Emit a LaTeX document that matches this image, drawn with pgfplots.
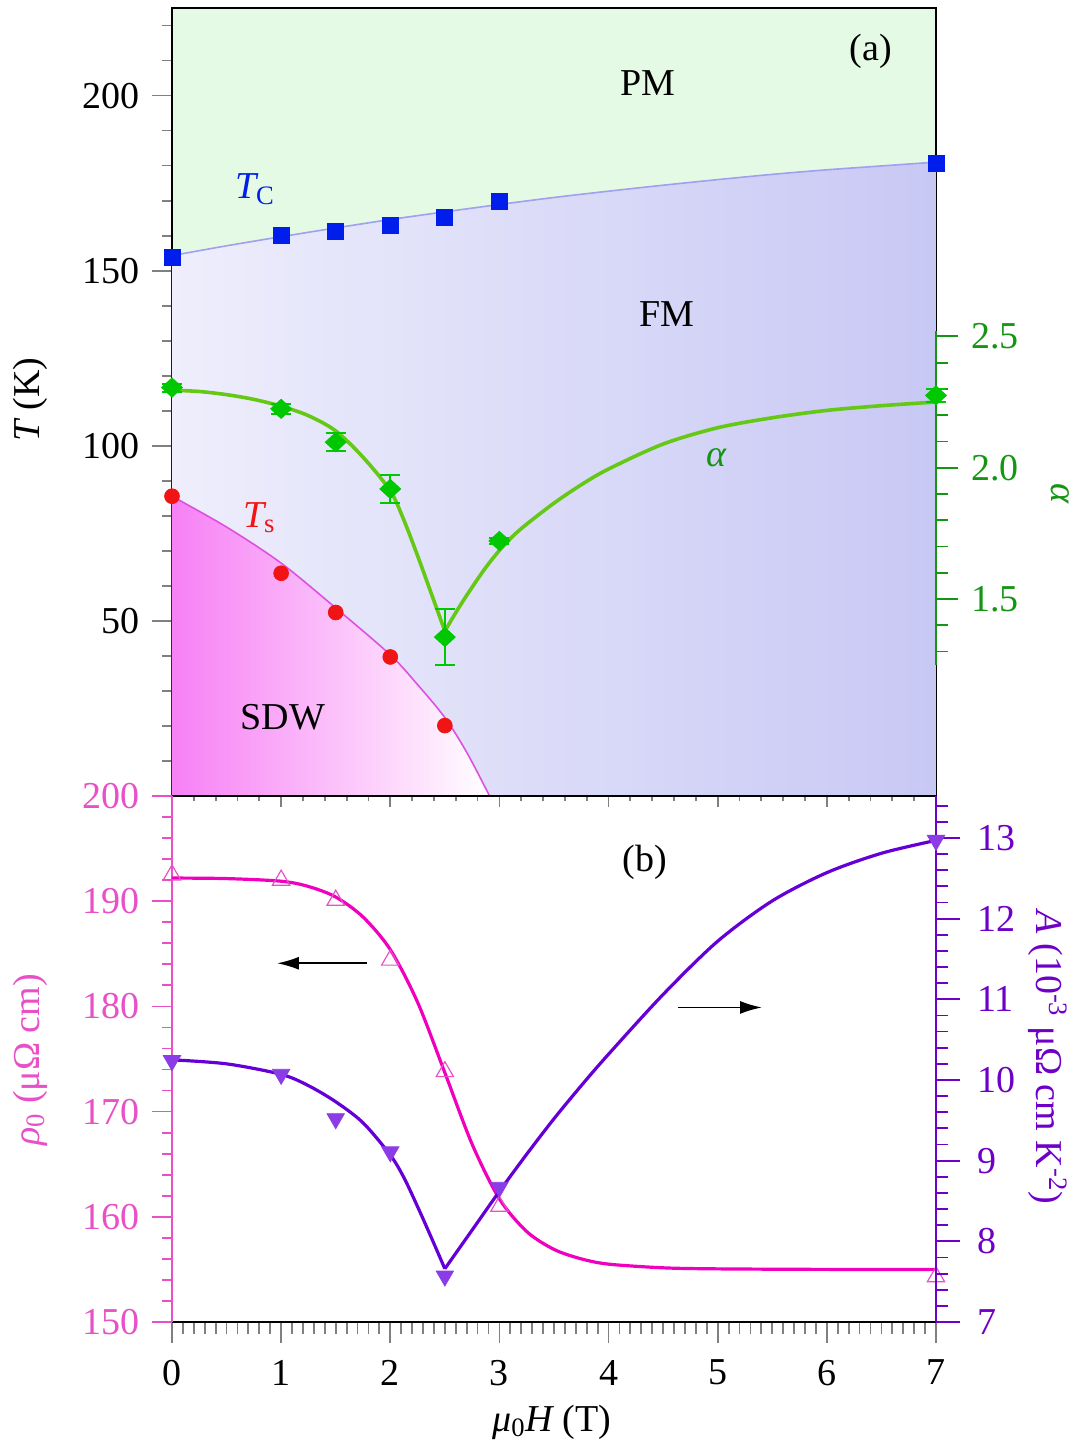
\documentclass[border=0pt]{standalone}
\usepackage{fontspec}
\setmainfont{Liberation Serif}
\usepackage{pgfplots}
\pgfplotsset{compat=1.18}
\usetikzlibrary{arrows.meta}

\definecolor{pmgreen}{RGB}{229,250,229}
\definecolor{fmleft}{RGB}{238,238,252}
\definecolor{fmright}{RGB}{200,200,245}
\definecolor{sdwpink}{RGB}{247,128,245}
\definecolor{tcline}{RGB}{160,160,240}
\definecolor{tsline}{RGB}{222,80,222}
\definecolor{tcblue}{RGB}{0,30,235}
\definecolor{tsred}{RGB}{240,20,20}
\definecolor{diagreen}{RGB}{0,200,0}
\definecolor{fitgreen}{RGB}{100,200,20}
\definecolor{axgreen}{RGB}{20,150,20}
\definecolor{rhoax}{RGB}{232,80,200}
\definecolor{rholine}{RGB}{240,0,190}
\definecolor{aax}{RGB}{110,0,200}
\definecolor{aline}{RGB}{100,0,215}
\definecolor{amark}{RGB}{140,60,230}

\newcommand{\lab}{\fontsize{19}{22}\selectfont}

\pgfplotsset{
  base/.style={
    scale only axis, width=382pt, xmin=0, xmax=7, clip=false,
    tick align=outside,
    /pgf/number format/assume math mode=true,
    tick label style={font=\lab},
    axis line style={line width=1pt},
    every tick/.append style={line width=0.9pt},
  },
}

\begin{document}
\begin{tikzpicture}
\useasboundingbox (-86pt,-326pt) rectangle (455pt,398pt);

% ---------- (a) phase diagram ----------
\begin{axis}[base, name=top, at={(0,0)}, anchor=south west, height=394pt,
  ymin=0, ymax=225,
  axis background/.style={fill=pmgreen},
  xtick=\empty,
  ytick={50,100,150,200}, minor ytick={10,20,...,220}, ytick pos=left,
  major tick length=10pt, minor tick length=5pt,
  yticklabel style={xshift=-2.5pt},
]
% FM region under T_C
\addplot[draw=none, left color=fmleft, right color=fmright] coordinates {
  (0,154.3) (0.5,157.1) (1,159.7) (1.5,162.2) (2,164.6) (2.5,166.8) (3,168.9)
  (3.5,170.9) (4,172.7) (4.5,174.4) (5,176.0) (5.5,177.5) (6,178.8) (6.5,179.9) (7,181.0)
} \closedcycle;
% SDW region under T_s
\addplot[draw=none, left color=sdwpink, right color=white, smooth] coordinates {
  (0,85.6) (0.5,76.8) (1,66.5) (1.5,53.7) (2,40.3) (2.25,31.8) (2.5,22.4) (2.7,12.5) (2.91,0)
} \closedcycle;
\addplot[tcline, line width=0.8pt, smooth] coordinates {
  (0,154.3) (0.5,157.1) (1,159.7) (1.5,162.2) (2,164.6) (2.5,166.8) (3,168.9)
  (3.5,170.9) (4,172.7) (4.5,174.4) (5,176.0) (5.5,177.5) (6,178.8) (6.5,179.9) (7,181.0)
};
\addplot[tsline, line width=0.8pt, smooth] coordinates {
  (0,85.6) (0.5,76.8) (1,66.5) (1.5,53.7) (2,40.3) (2.25,31.8) (2.5,22.4) (2.7,12.5) (2.91,0)
};
\addplot[only marks, mark=square*, mark size=4pt, tcblue] coordinates {
  (0,153.8) (1,160.0) (1.5,161.1) (2,162.8) (2.5,165.2) (3,169.7) (7,180.7)
};
\addplot[only marks, mark=*, mark size=3.7pt, tsred] coordinates {
  (0,85.6) (1,63.6) (1.5,52.4) (2,39.7) (2.5,20.1)
};
\node[font=\lab] at (axis cs:4.36,203.7) {PM};
\node[font=\lab] at (axis cs:4.535,137.5) {FM};
\node[font=\lab] at (axis cs:6.405,212.6) {(a)};
\node[font=\lab] at (axis cs:1.017,22.4) {SDW};
\node[font=\lab, tcblue] at (axis cs:0.76,173.2) {{\itshape T}\textsubscript{C}};
\node[font=\lab, tsred] at (axis cs:0.80,79.5) {{\itshape T}\textsubscript{s}};
\node[font=\lab, axgreen] at (axis cs:4.99,96.6) {\itshape α};
\node[font=\lab, rotate=90] at ([xshift=-71pt]axis cs:0,113.2) {{\itshape T} (K)};
\end{axis}

% x ticks of panel (a)
\begin{axis}[base, at={(0,0)}, anchor=south west, height=394pt,
  ymin=0, ymax=1, hide y axis, axis x line*=bottom,
  xtick={0,...,7}, minor x tick num=4, xticklabels={},
  major tick length=5.3pt, minor tick length=2.6pt,
]
\end{axis}

% alpha on the right of panel (a)
\begin{axis}[base, at={(0,0)}, anchor=south west, height=394pt,
  ymin=0.75, ymax=3.75, hide x axis, axis y line*=right,
  y axis line style={draw=none},
  ytick={1.5,2,2.5}, minor ytick={1.3,1.4,1.6,1.7,1.8,1.9,2.1,2.2,2.3,2.4},
  major tick length=11pt, minor tick length=6pt,
  every tick/.append style={axgreen},
  yticklabel style={axgreen, xshift=3pt, /pgf/number format/.cd, fixed, fixed zerofill, precision=1},
]
\draw[axgreen, line width=1pt] (axis cs:7,1.25) -- (axis cs:7,2.52);
\addplot[fitgreen, line width=1.8pt, smooth] coordinates {
  (0,2.295) (0.25,2.29) (0.5,2.278) (0.75,2.26) (1,2.234) (1.25,2.198) (1.5,2.14)
  (1.75,2.04) (2,1.912) (2.125,1.80) (2.25,1.665) (2.375,1.522) (2.5,1.378)
};
\addplot[fitgreen, line width=1.8pt, smooth] coordinates {
  (2.5,1.378) (2.625,1.465) (2.75,1.545) (2.875,1.62) (3,1.685) (3.125,1.74) (3.25,1.785)
  (3.5,1.865) (3.75,1.935) (4,1.995) (4.5,2.09) (5,2.152) (5.5,2.19) (6,2.218) (6.5,2.236) (7,2.25)
};
\addplot[only marks, mark=diamond*, mark size=4.8pt, diagreen,
  mark options={xscale=1.45},
  error bars/.cd, y dir=both, y explicit,
  error bar style={diagreen, line width=1pt},
  error mark options={diagreen, rotate=90, mark size=5pt, line width=1pt}]
coordinates {
  (0,2.305) +- (0,0.015)
  (1,2.224) +- (0,0.02)
  (1.5,2.097) +- (0,0.034)
  (2,1.919) +- (0,0.052)
  (2.5,1.355) +- (0,0.108)
  (3,1.721) +- (0,0.012)
  (7,2.275) +- (0,0.025)
};
\node[font=\lab, axgreen, rotate=-90] at ([xshift=62pt]axis cs:7,1.90) {\itshape α};
\end{axis}

% ---------- (b) ----------
% x axis
\begin{axis}[base, at={(0,0)}, anchor=north west, height=263pt,
  ymin=0, ymax=1, hide y axis, axis x line*=bottom,
  axis line style={line width=1.3pt},
  xtick={0,...,7}, minor x tick num=9,
  major tick length=10.5pt, minor tick length=6pt,
  xticklabel style={yshift=-5pt},
]
\node[font=\lab] at ([yshift=-50pt]axis cs:3.48,0) {{\itshape μ}\textsubscript{0}{\itshape H} (T)};
\end{axis}

% rho_0
\begin{axis}[base, at={(0,0)}, anchor=north west, height=263pt,
  ymin=150, ymax=200, hide x axis, axis y line*=left,
  y axis line style={rhoax},
  ytick={150,160,...,200}, minor ytick={152,154,...,198},
  major tick length=10pt, minor tick length=5pt,
  every tick/.append style={rhoax},
  yticklabel style={rhoax, xshift=-2.5pt},
]
\addplot[rholine, line width=1.6pt, smooth] coordinates {
  (0,192.2) (0.5,192.15) (1,191.9) (1.25,191.4) (1.5,190.4) (1.75,188.5) (2,185.4)
  (2.25,180.4) (2.5,173.7) (2.75,166.9) (3,161.7) (3.25,158.6) (3.5,156.9) (3.75,156.0)
  (4,155.5) (4.5,155.15) (5,155.05) (6,155.0) (7,155.0)
};
\addplot[only marks, mark=triangle, mark size=5pt, rhoax, mark options={line width=0.6pt}] coordinates {
  (0,192.5) (1,192.0) (1.5,190.1) (2,184.4) (2.5,173.8) (3,161.0) (7,154.3)
};
\node[font=\lab] at (axis cs:4.334,193.7) {(b)};
\draw[line width=0.9pt, -{Latex[length=11pt, width=6.5pt]}] (axis cs:1.787,184.1) -- (axis cs:0.962,184.1);
\draw[line width=0.9pt, -{Latex[length=11pt, width=6.5pt]}] (axis cs:4.636,179.9) -- (axis cs:5.406,179.9);
\node[font=\lab, rhoax, rotate=90] at ([xshift=-71pt]axis cs:0,174.9) {{\itshape ρ}\textsubscript{0} (μΩ cm)};
\end{axis}

% A
\begin{axis}[base, at={(0,0)}, anchor=north west, height=263pt,
  ymin=7, ymax=13.52, hide x axis, axis y line*=right,
  y axis line style={aax},
  ytick={7,...,13},
  minor ytick={7.2,7.4,7.6,7.8,8.2,8.4,8.6,8.8,9.2,9.4,9.6,9.8,10.2,10.4,10.6,10.8,
    11.2,11.4,11.6,11.8,12.2,12.4,12.6,12.8,13.2,13.4},
  major tick length=12pt, minor tick length=6pt,
  every tick/.append style={aax},
  yticklabel style={aax, xshift=5pt},
]
\addplot[aline, line width=1.6pt, smooth] coordinates {
  (0,10.25) (0.5,10.2) (1,10.07) (1.25,9.93) (1.5,9.73) (1.75,9.47) (2,9.07)
  (2.125,8.79) (2.25,8.43) (2.375,8.05) (2.5,7.66)
};
\addplot[aline, line width=1.6pt, smooth] coordinates {
  (2.5,7.66) (2.75,8.14) (3,8.62) (3.25,9.08) (3.5,9.52) (3.75,9.93) (4,10.32)
  (4.5,11.06) (5,11.72) (5.5,12.22) (6,12.57) (6.5,12.81) (7,12.97)
};
\addplot[only marks, mark=triangle*, mark size=5pt, amark, mark options={rotate=180}] coordinates {
  (0,10.24) (1,10.07) (1.5,9.52) (2,9.11) (2.5,7.57) (3,8.67) (7,12.97)
};
\node[font=\lab, aax, rotate=-90] at ([xshift=56pt]axis cs:7,10.28)
  {{\itshape A} (10\textsuperscript{-3} μΩ cm K\textsuperscript{-2})};
\end{axis}
\end{tikzpicture}
\end{document}
